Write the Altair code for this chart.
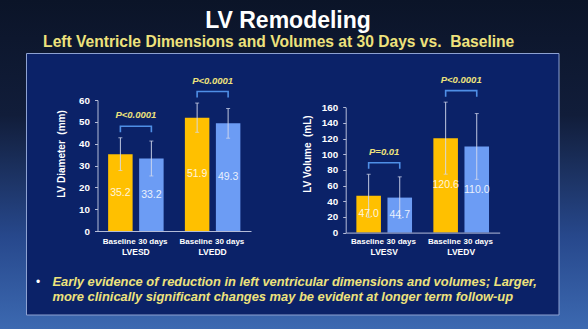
import altair as alt
import pandas as pd

# ---------------- data ----------------
timepoints = ["Baseline", "30 days", "Baseline", "30 days"]
left_measures = ["LVESD", "LVESD", "LVEDD", "LVEDD"]
left_means = [35.2, 33.2, 51.9, 49.3]
left_sds = [7.5, 8.0, 6.7, 6.8]
left_groups = ["LVESD", "LVEDD"]
left_pvalues = ["P<0.0001", "P<0.0001"]
left_ticks = [0, 10, 20, 30, 40, 50, 60]

right_measures = ["LVESV", "LVESV", "LVEDV", "LVEDV"]
right_means = [47.0, 44.7, 120.6, 110.0]
right_sds = [27.5, 26.5, 46.0, 42.0]
right_groups = ["LVESV", "LVEDV"]
right_pvalues = ["P=0.01", "P<0.0001"]
right_ticks = [0, 20, 40, 60, 80, 100, 120, 140, 160]

title_text = ["LV Remodeling"]
subtitle_text = ["Left Ventricle Dimensions and Volumes at 30 Days vs.\u00a0 Baseline"]
left_ytitle = ["LV Diameter\u00a0 (mm)"]
right_ytitle = ["LV Volume\u00a0 (mL)"]
bullet_lines = [
    "Early evidence of reduction in left ventricular dimensions and volumes; Larger,",
    "more clinically significant changes may be evident at longer term follow-up",
]

W, H = 588, 329
FONT = "Liberation Sans"
GOLD = "#FFC000"
BLUE = "#6C9CF4"
YELLOW = "#EEE27C"


def text_layer(txt, x, y, **kw):
    return alt.Chart(pd.DataFrame({"t": txt})).mark_text(font=FONT, **kw).encode(
        x=alt.value(x), y=alt.value(y), text="t:N"
    )


def panel(measures, means, sds, groups, pvals, ticks, ydom, yrange, xrange):
    df = pd.DataFrame({"measure": measures, "time": timepoints, "mean": means, "sd": sds})
    df["lo"] = df["mean"] - df["sd"]
    df["hi"] = df["mean"] + df["sd"]
    df["mid"] = df["mean"] / 2
    df["label"] = df["mean"].map(lambda v: f"{v:.1f}")

    ppu = (yrange[0] - yrange[1]) / (ydom[1] - ydom[0])
    pad_px, foot_px = 11.5, 6
    rows = []
    for g, p in zip(groups, pvals):
        top = df.loc[df.measure == g, "hi"].max()
        level = top + pad_px / ppu
        foot = level - foot_px / ppu
        rows += [
            dict(measure=g, time="Baseline", y=foot, k=0, p=p),
            dict(measure=g, time="Baseline", y=level, k=1, p=p),
            dict(measure=g, time="30 days", y=level, k=2, p=p),
            dict(measure=g, time="30 days", y=foot, k=3, p=p),
        ]
    br = pd.DataFrame(rows)
    pt = br[br.k == 1]
    gdf = pd.DataFrame({"measure": groups})

    xs = alt.Scale(domain=groups, range=xrange, paddingInner=0, paddingOuter=0)
    xos = alt.Scale(domain=["Baseline", "30 days"], paddingInner=0.21, paddingOuter=0.343)
    ys = alt.Scale(domain=ydom, range=yrange, nice=False, zero=True)
    xaxis = alt.Axis(orient="bottom", offset=yrange[0] - H, labels=False, ticks=False,
                     title=None, grid=False, domainColor="#B4BCD8", domainWidth=1, zindex=1)
    yaxis = alt.Axis(orient="left", offset=-xrange[0], values=ticks, tickSize=3,
                     labelPadding=5, labelFont=FONT, labelFontSize=9.8,
                     labelFontWeight="bold", labelColor="white", title=None, grid=False,
                     domainColor="#B4BCD8", tickColor="#B4BCD8", domainWidth=1, zindex=1)

    X = alt.X("measure:N", scale=xs, axis=xaxis, title=None, sort=groups)
    XO = alt.XOffset("time:N", scale=xos, sort=["Baseline", "30 days"])

    def Y(f):
        return alt.Y(f"{f}:Q", scale=ys, axis=yaxis, title=None)

    base = alt.Chart(df)
    bars = base.mark_bar().encode(
        x=X, xOffset=XO, y=Y("mean"),
        color=alt.Color("time:N", scale=alt.Scale(domain=["Baseline", "30 days"],
                                                  range=[GOLD, BLUE]), legend=None),
    )
    err = base.mark_rule(color="#D4DAEE", strokeWidth=1, opacity=0.9).encode(
        x=X, xOffset=XO, y=Y("lo"), y2="hi")
    cap_hi = base.mark_tick(color="#D4DAEE", size=4, thickness=1).encode(x=X, xOffset=XO, y=Y("hi"))
    cap_lo = base.mark_tick(color="#D4DAEE", size=4, thickness=1).encode(x=X, xOffset=XO, y=Y("lo"))
    vals = base.mark_text(font=FONT, fontSize=10.5, color="white", opacity=0.85).encode(
        x=X, xOffset=XO, y=Y("mid"), text="label:N")
    tl_base = base.transform_filter(alt.datum.time == "Baseline").mark_text(
        font=FONT, fontSize=8, fontWeight="bold", color="white", dx=-1.2).encode(
        x=X, xOffset=XO, y=alt.value(241.5), text="time:N")
    tl_30 = base.transform_filter(alt.datum.time == "30 days").mark_text(
        font=FONT, fontSize=8, fontWeight="bold", color="white", dx=1.5).encode(
        x=X, xOffset=XO, y=alt.value(241.5), text="time:N")
    gl = alt.Chart(gdf).mark_text(font=FONT, fontSize=8.5, fontWeight="bold", color="white").encode(
        x=X, y=alt.value(252), text="measure:N")
    brk = alt.Chart(br).mark_line(color="#4F8FE6", strokeWidth=1.6).encode(
        x=X, xOffset=XO, y=Y("y"), detail="measure:N", order="k:Q")
    ptx = alt.Chart(pt).mark_text(font=FONT, fontSize=9.5, fontWeight="bold", fontStyle="italic",
                                  color=YELLOW, dy=-11).encode(x=X, y=Y("y"), text="p:N")
    return alt.layer(bars, err, cap_hi, cap_lo, vals, tl_base, tl_30, gl, brk, ptx)


bg = alt.Chart(pd.DataFrame({"a": [0]})).mark_rect(
    fill=alt.LinearGradient(
        gradient="linear", x1=0, y1=0, x2=0, y2=1,
        stops=[alt.GradientStop(color="#0B1428", offset=0),
               alt.GradientStop(color="#111D3A", offset=0.35),
               alt.GradientStop(color="#27488C", offset=0.72),
               alt.GradientStop(color="#3C69B1", offset=1)],
    )
).encode(x=alt.value(0), x2=alt.value(W), y=alt.value(0), y2=alt.value(H))

box = alt.Chart(pd.DataFrame({"a": [0]})).mark_rect(
    fill="#0B2268", stroke="#8EA2D2", strokeWidth=1
).encode(x=alt.value(26.5), x2=alt.value(559), y=alt.value(53.5), y2=alt.value(315))

title = text_layer(title_text, 288, 28, fontSize=23, fontWeight="bold", color="white",
                   align="center", baseline="alphabetic")
subtitle = text_layer(subtitle_text, 278.7, 46.5, fontSize=15.6, fontWeight="bold", color=YELLOW,
                      align="center", baseline="alphabetic")
ytl = text_layer(left_ytitle, 62, 154, fontSize=10, fontWeight="bold", color="white",
                 angle=270, align="center", baseline="middle")
ytr = text_layer(right_ytitle, 308, 154, fontSize=10, fontWeight="bold", color="white",
                 angle=270, align="center", baseline="middle")
bullet = text_layer(["\u2022"], 38, 282, fontSize=12, color="white", align="center",
                    baseline="middle")
line1 = text_layer(bullet_lines[:1], 52.5, 286, fontSize=12.9, fontWeight="bold",
                   fontStyle="italic", color=YELLOW, align="left", baseline="alphabetic")
line2 = text_layer(bullet_lines[1:], 52.5, 300.5, fontSize=12.9, fontWeight="bold",
                   fontStyle="italic", color=YELLOW, align="left", baseline="alphabetic")

left = panel(left_measures, left_means, left_sds, left_groups, left_pvalues, left_ticks,
             [0, 60], [231, 100], [97.5, 251])
right = panel(right_measures, right_means, right_sds, right_groups, right_pvalues, right_ticks,
              [0, 160], [232.6, 107.3], [345.7, 499.7])

chart = alt.layer(bg, box, title, subtitle, ytl, ytr, bullet, line1, line2, left, right).resolve_scale(
    x="independent", y="independent", xOffset="independent"
).properties(
    width=W, height=H, autosize=alt.AutoSizeParams(type="none"), padding=0
).configure_view(stroke=None).configure(background="#0B1428")

chart.save("out.html", embed_options={"renderer": "svg", "actions": False})
